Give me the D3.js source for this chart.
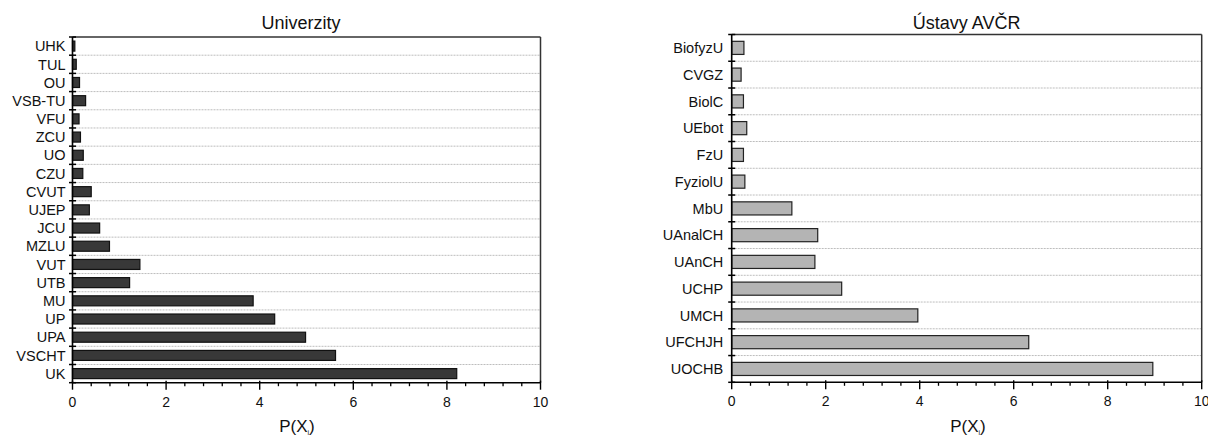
<!DOCTYPE html>
<html><head><meta charset="utf-8">
<script src="https://cdn.jsdelivr.net/npm/d3@7"></script>
<style>body{margin:0;background:#fff;} svg{display:block;} text{font-family:"Liberation Sans",Arial,sans-serif;fill:#111;}</style>
</head><body>
<svg id="c" width="1208" height="438"></svg>
<script>
// Left panel: Univerzity (top to bottom)
const uniCategories = ["UHK","TUL","OU","VSB-TU","VFU","ZCU","UO","CZU","CVUT","UJEP","JCU","MZLU","VUT","UTB","MU","UP","UPA","VSCHT","UK"];
const uniValues = [0.05,0.08,0.15,0.28,0.14,0.17,0.23,0.22,0.40,0.36,0.58,0.79,1.44,1.22,3.86,4.32,4.98,5.62,8.21];
// Right panel: Ústavy AVČR (top to bottom)
const avcrCategories = ["BiofyzU","CVGZ","BiolC","UEbot","FzU","FyziolU","MbU","UAnalCH","UAnCH","UCHP","UMCH","UFCHJH","UOCHB"];
const avcrValues = [0.26,0.20,0.25,0.32,0.25,0.28,1.28,1.83,1.77,2.34,3.96,6.32,8.96];
const xTicks = [0,2,4,6,8,10];
const titles = ["Univerzity","Ústavy AVČR"];
const xLabel = ["P(X","i",")"];

const svg = d3.select("#c");

function panel(cfg){
  const g = svg.append("g");
  const x = d3.scaleLinear().domain([0,10]).range([cfg.x0,cfg.x1]);
  const y = d3.scaleBand().domain(cfg.cats).range([cfg.y0,cfg.y1]).paddingInner(0).paddingOuter(0);
  const bw = y.bandwidth();
  // gridlines at inner band boundaries
  cfg.cats.slice(1).forEach(c=>{
    g.append("line").attr("x1",cfg.x0).attr("x2",cfg.x1)
      .attr("y1",y(c)).attr("y2",y(c))
      .attr("stroke","#bdbdbd").attr("stroke-width",1).attr("stroke-dasharray","2,1");
  });
  // bars
  const bh = bw*cfg.barFrac;
  g.selectAll("rect.bar").data(cfg.vals).enter().append("rect")
    .attr("x",x(0)).attr("y",(d,i)=>y(cfg.cats[i])+(bw-bh)/2)
    .attr("width",d=>x(d)-x(0)).attr("height",bh)
    .attr("fill",cfg.fill).attr("stroke",cfg.stroke).attr("stroke-width",1.2);
  // frame top/right
  g.append("line").attr("x1",cfg.x0).attr("x2",cfg.x1).attr("y1",cfg.y0).attr("y2",cfg.y0).attr("stroke","#333").attr("stroke-width",1.5);
  g.append("line").attr("x1",cfg.x1).attr("x2",cfg.x1).attr("y1",cfg.y0).attr("y2",cfg.y1).attr("stroke","#333").attr("stroke-width",1.5);
  // left axis
  g.append("line").attr("x1",cfg.x0).attr("x2",cfg.x0).attr("y1",cfg.y0).attr("y2",cfg.y1).attr("stroke","#000").attr("stroke-width",1.6);
  const bounds = cfg.cats.map(c=>y(c)).concat([cfg.y1]);
  bounds.forEach(b=>{
    g.append("line").attr("x1",cfg.x0-3.5).attr("x2",cfg.x0+3.5).attr("y1",b).attr("y2",b).attr("stroke","#000").attr("stroke-width",1.5);
  });
  cfg.cats.forEach(c=>{
    g.append("text").attr("x",cfg.x0-cfg.labGap).attr("y",y(c)+bw/2).attr("dy","0.36em")
      .attr("text-anchor","end").attr("font-size",cfg.fs).text(c);
  });
  // bottom axis
  g.append("line").attr("x1",cfg.x0).attr("x2",cfg.x1).attr("y1",cfg.y1).attr("y2",cfg.y1).attr("stroke","#000").attr("stroke-width",1.6);
  const minor = d3.range(0,10.001,0.4).filter(v=>Math.abs(v/2-Math.round(v/2))>1e-6);
  minor.forEach(v=>{
    g.append("line").attr("x1",x(v)).attr("x2",x(v)).attr("y1",cfg.y1).attr("y2",cfg.y1+3.5).attr("stroke","#000").attr("stroke-width",1.3);
  });
  xTicks.forEach(v=>{
    g.append("line").attr("x1",x(v)).attr("x2",x(v)).attr("y1",cfg.y1-2).attr("y2",cfg.y1+7).attr("stroke","#000").attr("stroke-width",1.4);
    g.append("text").attr("x",x(v)).attr("y",cfg.y1+24).attr("text-anchor","middle").attr("font-size",14).text(v);
  });
  // title
  g.append("text").attr("x",cfg.titleX).attr("y",28.5).attr("text-anchor","middle").attr("font-size",18).text(cfg.title);
  // axis label
  const t = g.append("text").attr("x",cfg.labX).attr("y",432).attr("text-anchor","middle").attr("font-size",17);
  t.append("tspan").text(xLabel[0]);
  t.append("tspan").attr("font-size",7).attr("dy",2.5).text(xLabel[1]);
  t.append("tspan").attr("dy",-2.5).text(xLabel[2]);
}

panel({cats:uniCategories, vals:uniValues, x0:72.5, x1:540.5, y0:37, y1:382.7, barFrac:0.55,
  fill:"#383838", stroke:"#111", labGap:7, fs:14.5, title:titles[0], titleX:301, labX:297});
panel({cats:avcrCategories, vals:avcrValues, x0:731.7, x1:1201.7, y0:34.5, y1:382.3, barFrac:0.49,
  fill:"#b4b4b4", stroke:"#222", labGap:8.5, fs:14.5, title:titles[1], titleX:966.7, labX:968});
</script>
</body></html>
